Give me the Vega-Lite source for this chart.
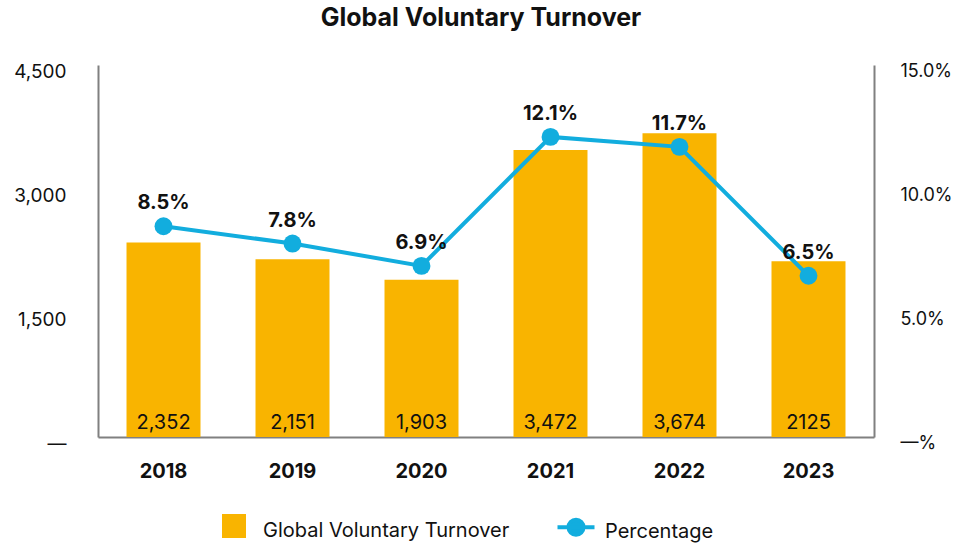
{
  "$schema": "https://vega.github.io/schema/vega-lite/v6.json",
  "width": 776,
  "height": 372,
  "autosize": {"type": "none"},
  "padding": {"left": 98, "top": 65, "right": 80, "bottom": 107},
  "background": "white",
  "config": {"view": {"stroke": null}, "font": "Inter"},
  "title": {"text": "Global Voluntary Turnover", "fontSize": 25, "fontWeight": "bold", "color": "#111111", "offset": 31, "anchor": "middle", "dx": -5},
  "data": {"values": [
    {"year": "2018", "count": 2352, "count_label": "2,352", "pct": 0.085},
    {"year": "2019", "count": 2151, "count_label": "2,151", "pct": 0.078},
    {"year": "2020", "count": 1903, "count_label": "1,903", "pct": 0.069},
    {"year": "2021", "count": 3472, "count_label": "3,472", "pct": 0.121},
    {"year": "2022", "count": 3674, "count_label": "3,674", "pct": 0.117},
    {"year": "2023", "count": 2125, "count_label": "2125", "pct": 0.065}
  ]},
  "encoding": {
    "x": {"field": "year", "type": "nominal", "scale": {"paddingInner": 0.4264, "paddingOuter": 0.221},
      "axis": {"title": null, "labelAngle": 0, "labelFontSize": 20, "labelFontWeight": "bold", "labelColor": "#111111", "labelPadding": 24, "ticks": false, "grid": false, "domainColor": "#808080", "domainWidth": 2}}
  },
  "layer": [
    {"layer": [
      {"mark": {"type": "bar"},
       "encoding": {
         "y": {"field": "count", "type": "quantitative", "scale": {"domain": [0, 4500], "nice": false},
           "axis": {"title": null, "values": [0, 1500, 3000, 4500], "labelExpr": "datum.value === 0 ? '—' : format(datum.value, ',')", "labelFontSize": 19, "labelColor": "#111111", "labelPadding": 32, "labelOffset": 6, "ticks": false, "grid": false, "domainColor": "#808080", "domainWidth": 2}},
         "color": {"datum": "Global Voluntary Turnover", "type": "nominal",
           "scale": {"domain": ["Global Voluntary Turnover", "Percentage"], "range": ["#F9B400", "#12ADDE"]},
           "legend": {"orient": "none", "legendX": 124, "legendY": 449, "direction": "horizontal", "title": null,
             "labelFontSize": 20, "labelColor": "#111111", "labelLimit": 0, "symbolSize": 400, "labelOffset": 17, "columnPadding": 39,
             "encode": {
               "symbols": {"update": {
                 "shape": {"signal": "datum.value === 'Percentage' ? 'M-1.85,0H1.85M0.75,0A0.75,0.75,0,1,1,-0.75,0A0.75,0.75,0,1,1,0.75,0Z' : 'square'"},
                 "fill": {"signal": "datum.value === 'Percentage' ? '#12ADDE' : '#F9B400'"},
                 "stroke": {"signal": "datum.value === 'Percentage' ? '#12ADDE' : 'transparent'"},
                 "strokeWidth": {"value": 4},
                 "opacity": {"value": 1}
               }},
               "labels": {"update": {"dy": {"value": 5}}}
             }}}
       }},
      {"mark": {"type": "text", "baseline": "alphabetic", "dy": -8, "fontSize": 20, "color": "#111111"},
       "encoding": {"y": {"datum": 0, "type": "quantitative"}, "text": {"field": "count_label"}}}
    ]},
    {"layer": [
      {"mark": {"type": "line", "strokeWidth": 4, "point": {"filled": true, "size": 320, "opacity": 1}},
       "encoding": {
         "y": {"field": "pct", "type": "quantitative", "scale": {"domain": [0, 0.15], "nice": false},
           "axis": {"orient": "right", "title": null, "values": [0, 0.05, 0.1, 0.15], "format": ".1%", "labelExpr": "datum.value === 0 ? '—%' : datum.label", "labelFontSize": 18, "labelColor": "#111111", "labelPadding": 26, "labelOffset": 6, "ticks": false, "grid": false, "domainColor": "#808080", "domainWidth": 2}},
         "color": {"datum": "Percentage", "type": "nominal"}
       }},
      {"mark": {"type": "text", "baseline": "alphabetic", "dy": -17, "fontSize": 20, "fontWeight": "bold", "color": "#111111"},
       "encoding": {"y": {"field": "pct", "type": "quantitative"}, "text": {"field": "pct", "format": ".1%"}}}
    ]}
  ],
  "resolve": {"scale": {"y": "independent"}}
}
